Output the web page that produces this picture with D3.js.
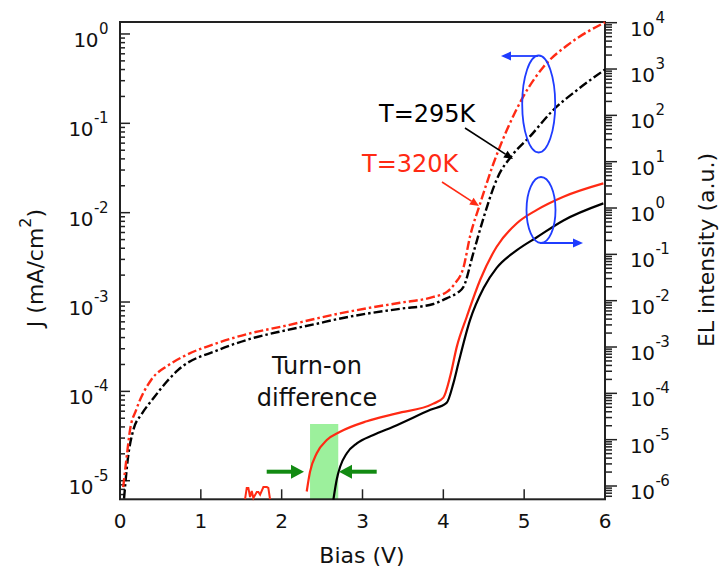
<!DOCTYPE html>
<html><head><meta charset="utf-8">
<script src="https://cdn.jsdelivr.net/npm/d3@7"></script>
<style>body{margin:0;background:#fff} svg{display:block} text{font-family:"DejaVu Sans",Verdana,sans-serif}</style>
</head><body><svg id="c" width="719" height="571"></svg>
<script>
// ---------- data ----------
const biasTicks = [0, 1, 2, 3, 4, 5, 6];
const jTickExps = [-5, -4, -3, -2, -1, 0];
const elTickExps = [-6, -5, -4, -3, -2, -1, 0, 1, 2, 3, 4];

// J (left axis), T=320K, dash-dot red
const redJBias = [0.04,0.087,0.124,0.20,0.387,0.594,0.80,1.213,1.625,2.04,2.45,2.64,3.05,3.465,3.877,4.04,4.14,4.25,4.33,4.455,4.62,4.786,4.99,5.24,5.57,6.0];
const redJ     = [8.5e-6,2.0e-5,3.7e-5,6.2e-5,1.35e-4,1.95e-4,2.5e-4,3.5e-4,4.5e-4,5.4e-4,6.6e-4,7.2e-4,8.5e-4,9.8e-4,1.14e-3,1.29e-3,1.6e-3,2.45e-3,5.4e-3,1.26e-2,3.55e-2,8.4e-2,0.20,0.43,0.79,1.35];
// J (left axis), T=295K, dash-dot black
const blackJBias = [0.05,0.095,0.165,0.27,0.41,0.58,0.72,1.213,1.625,2.04,2.45,2.64,3.05,3.465,3.877,4.04,4.17,4.25,4.37,4.50,4.66,4.87,5.07,5.36,5.65,6.0];
const blackJ     = [6.3e-6,1.7e-5,3.7e-5,5.6e-5,8.3e-5,1.29e-4,1.74e-4,2.9e-4,3.9e-4,4.8e-4,5.75e-4,6.3e-4,7.4e-4,8.4e-4,9.5e-4,1.1e-3,1.26e-3,1.48e-3,3.5e-3,8.9e-3,2.35e-2,4.6e-2,7.1e-2,0.141,0.234,0.40];
// EL (right axis), T=320K, solid red: noise segment and main segment
const redELNoiseBias = [1.547,1.568,1.588,1.609,1.63,1.65,1.692,1.712,1.733,1.774,1.816,1.835,1.856];
const redELNoise     = [5.2e-7,9.1e-7,9.1e-7,5.8e-7,7.8e-7,5.5e-7,7.4e-7,7.4e-7,6.5e-7,9.5e-7,9.5e-7,9.1e-7,5.2e-7];
const redELBias = [2.31,2.35,2.434,2.558,2.723,3.053,3.424,3.877,4.00,4.084,4.167,4.29,4.455,4.66,4.91,5.157,5.486,5.98];
const redEL     = [7.6e-7,2.0e-6,5.1e-6,9.8e-6,1.48e-5,2.5e-5,3.7e-5,6.0e-5,8.1e-5,2.3e-4,1.02e-3,4.5e-3,2.8e-2,0.146,0.47,0.91,1.75,3.4];
// EL (right axis), T=295K, solid black
const blackELBias = [2.64,2.68,2.723,2.806,2.93,3.135,3.38,3.84,4.04,4.125,4.187,4.33,4.50,4.66,4.91,5.157,5.486,5.98];
const blackEL     = [5.1e-7,1.35e-6,2.6e-6,5.1e-6,8.3e-6,1.26e-5,1.9e-5,4.4e-5,6.2e-5,1.66e-4,4.5e-4,3.8e-3,1.9e-2,5.1e-2,0.123,0.234,0.54,1.26];

// ---------- layout ----------
const L = 120, R = 605, T = 22, B = 499.3;
const RED = "#ff2a14", BLUE = "#1f3cff", GREEN = "#128a12", LGREEN = "#9cf09c";

const svg = d3.select("#c");
const x = d3.scaleLinear().domain([0, 6]).range([L, R]);
const yJ = d3.scaleLog().domain([Math.pow(10, -5.208), Math.pow(10, 0.134)]).range([B, T]);
const yEL = d3.scaleLog().domain([Math.pow(10, -6.287), Math.pow(10, 4.015)]).range([B, T]);

const zip = (a, b) => a.map((v, i) => [v, b[i]]);

// green highlight (behind curves)
svg.append("rect").attr("x", x(2.351)).attr("y", 424)
  .attr("width", x(2.70) - x(2.351)).attr("height", B - 424).attr("fill", LGREEN);

// ---------- axes ----------
const axisCol = "#222";
function minorVals(scale) {
  const [a, b] = scale.domain();
  const out = [];
  for (let d = Math.floor(Math.log10(a)); d <= Math.ceil(Math.log10(b)); d++)
    for (let k = 1; k <= 9; k++) {
      const v = k * Math.pow(10, d);
      if (v >= a && v <= b) out.push([v, k === 1]);
    }
  return out;
}
minorVals(yJ).forEach(([v, major]) => {
  svg.append("line").attr("x1", L).attr("x2", L + (major ? 10 : 5))
    .attr("y1", yJ(v)).attr("y2", yJ(v)).attr("stroke", axisCol).attr("stroke-width", 1.5);
});
minorVals(yEL).forEach(([v, major]) => {
  svg.append("line").attr("x1", R).attr("x2", R + (major ? 12 : 7))
    .attr("y1", yEL(v)).attr("y2", yEL(v)).attr("stroke", axisCol).attr("stroke-width", 1.5);
});
biasTicks.forEach(v => {
  svg.append("line").attr("x1", x(v)).attr("x2", x(v)).attr("y1", B).attr("y2", B - 10)
    .attr("stroke", axisCol).attr("stroke-width", 1.5);
  svg.append("text").attr("x", x(v)).attr("y", 528).attr("text-anchor", "middle")
    .attr("font-size", 20).attr("fill", "#111").text(v);
});
svg.append("rect").attr("x", L).attr("y", T).attr("width", R - L).attr("height", B - T)
  .attr("fill", "none").attr("stroke", axisCol).attr("stroke-width", 2);

function powLabel(xp, yp, exp, anchor) {
  const t = svg.append("text").attr("x", xp).attr("y", yp + 13).attr("text-anchor", anchor)
    .attr("font-size", 20).attr("fill", "#111").attr("letter-spacing", -0.5);
  t.append("tspan").text("10");
  t.append("tspan").attr("font-size", 15).attr("dy", -13).attr("dx", 1).text(exp);
}
jTickExps.forEach(e => powLabel(108, yJ(Math.pow(10, e)), e, "end"));
elTickExps.forEach(e => powLabel(630, yEL(Math.pow(10, e)), e, "start"));

svg.append("text").attr("x", 362).attr("y", 563).attr("text-anchor", "middle")
  .attr("font-size", 22).attr("fill", "#111").text("Bias (V)");
const jt = svg.append("text").attr("transform", "translate(43,268) rotate(-90)")
  .attr("text-anchor", "middle").attr("font-size", 22).attr("fill", "#111");
jt.append("tspan").text("J (mA/cm");
jt.append("tspan").attr("font-size", 16).attr("dy", -12).text("2");
jt.append("tspan").attr("dy", 12).text(")");
svg.append("text").attr("transform", "translate(714,250) rotate(-90)")
  .attr("text-anchor", "middle").attr("font-size", 22).attr("fill", "#111").text("EL intensity (a.u.)");

// ---------- curves ----------
const g = svg.append("g");
const lineJ = d3.line().x(d => x(d[0])).y(d => yJ(d[1])).curve(d3.curveMonotoneX);
const lineEL = d3.line().x(d => x(d[0])).y(d => yEL(d[1])).curve(d3.curveMonotoneX);
const lineELlin = d3.line().x(d => x(d[0])).y(d => yEL(d[1]));

g.append("path").attr("d", lineEL(zip(blackELBias, blackEL))).attr("fill", "none").attr("stroke", "#000").attr("stroke-width", 2.2);
g.append("path").attr("d", lineEL(zip(redELBias, redEL))).attr("fill", "none").attr("stroke", RED).attr("stroke-width", 2.2);
g.append("path").attr("d", lineELlin(zip(redELNoiseBias, redELNoise))).attr("fill", "none").attr("stroke", RED).attr("stroke-width", 2);
g.append("path").attr("d", lineJ(zip(blackJBias, blackJ))).attr("fill", "none").attr("stroke", "#000").attr("stroke-width", 2.4).attr("stroke-dasharray", "9,3,2.5,3");
g.append("path").attr("d", lineJ(zip(redJBias, redJ))).attr("fill", "none").attr("stroke", RED).attr("stroke-width", 2.4).attr("stroke-dasharray", "9,3,2.5,3");

// ---------- annotations ----------
function arrow(x1, y1, x2, y2, col, w, hl, hw) {
  const a = Math.atan2(y2 - y1, x2 - x1);
  const bx = x2 - hl * Math.cos(a), by = y2 - hl * Math.sin(a);
  svg.append("line").attr("x1", x1).attr("y1", y1).attr("x2", bx).attr("y2", by)
    .attr("stroke", col).attr("stroke-width", w);
  const px = -Math.sin(a) * hw, py = Math.cos(a) * hw;
  svg.append("path").attr("d", `M${x2},${y2}L${bx + px},${by + py}L${bx - px},${by - py}Z`).attr("fill", col);
}
arrow(266.7, 471.7, 304, 471.7, GREEN, 4, 13, 7);
arrow(376.7, 471.7, 339, 471.7, GREEN, 4, 13, 7);
svg.append("text").attr("x", 317).attr("y", 374).attr("text-anchor", "middle").attr("font-size", 24).attr("fill", "#111").text("Turn-on");
svg.append("text").attr("x", 317).attr("y", 406).attr("text-anchor", "middle").attr("font-size", 24).attr("fill", "#111").text("difference");

svg.append("text").attr("x", 379).attr("y", 122).attr("font-size", 24).attr("fill", "#000").text("T=295K");
svg.append("text").attr("x", 362).attr("y", 172).attr("font-size", 24).attr("fill", RED).text("T=320K");
arrow(465, 128, 513, 159, "#000", 1.6, 9, 4);
arrow(442, 182, 479, 206, RED, 1.6, 9, 4);

svg.append("ellipse").attr("cx", 538.7).attr("cy", 104).attr("rx", 16.5).attr("ry", 48.5)
  .attr("fill", "none").attr("stroke", BLUE).attr("stroke-width", 1.8);
arrow(538, 56, 501, 56, BLUE, 1.8, 10, 4.5);
svg.append("ellipse").attr("cx", 541).attr("cy", 210).attr("rx", 14.5).attr("ry", 33)
  .attr("fill", "none").attr("stroke", BLUE).attr("stroke-width", 1.8);
arrow(540, 243, 583, 243, BLUE, 1.8, 10, 4.5);
</script></body></html>
